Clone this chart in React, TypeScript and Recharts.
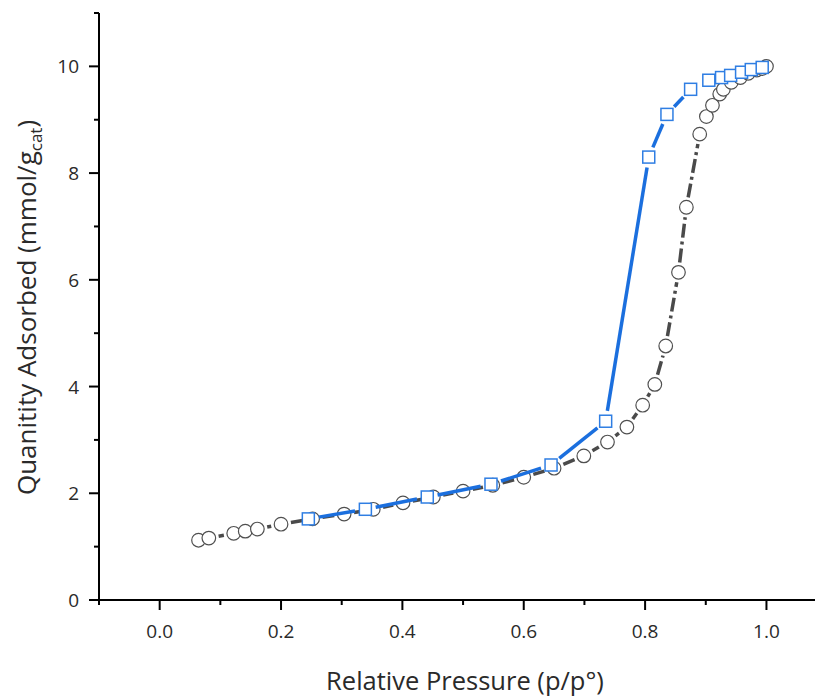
import { ScatterChart, Scatter, XAxis, YAxis } from 'recharts';

// Adsorption branch (grey circles)
const adsP = [
  0.064, 0.081, 0.122, 0.141, 0.161, 0.2, 0.252, 0.304, 0.352, 0.401, 0.451, 0.5,
  0.549, 0.6, 0.65, 0.699, 0.738, 0.77, 0.796, 0.816, 0.834, 0.855, 0.868, 0.89,
  0.901, 0.911, 0.923, 0.929, 0.942, 0.957, 0.97, 0.984, 0.993, 1.0,
];
const adsQ = [
  1.12, 1.16, 1.25, 1.29, 1.33, 1.42, 1.52, 1.61, 1.7, 1.82, 1.93, 2.04,
  2.15, 2.3, 2.47, 2.7, 2.96, 3.24, 3.65, 4.04, 4.76, 6.14, 7.36, 8.73,
  9.06, 9.27, 9.48, 9.57, 9.7, 9.79, 9.87, 9.93, 9.96, 10.0,
];

// Desorption branch (blue squares)
const desP = [
  0.245, 0.339, 0.441, 0.546, 0.645, 0.735, 0.806, 0.836, 0.875, 0.905, 0.926,
  0.941, 0.959, 0.975, 0.993,
];
const desQ = [
  1.52, 1.7, 1.93, 2.17, 2.53, 3.35, 8.3, 9.1, 9.57, 9.74, 9.79, 9.83, 9.89,
  9.94, 9.98,
];

const xTicks = [-0.1, 0, 0.1, 0.2, 0.3, 0.4, 0.5, 0.6, 0.7, 0.8, 0.9, 1.0];
const yTicks = [0, 1, 2, 3, 4, 5, 6, 7, 8, 9, 10, 11];

const adsData = adsP.map((p, i) => ({ p, q: adsQ[i] }));
const desData = desP.map((p, i) => ({ p, q: desQ[i] }));

const FONT = '"Open Sans", "Noto Sans", sans-serif';
const GREY = '#4a4a4a';
const BLUE = '#1b6fde';
const TEXT = '#2a2a2a';

// line split into segments, with a small gap left around each marker
const gappedLine = (color: string, gap: number, dash?: string) => (props: any) => {
  const pts = props.points || [];
  const segs = [];
  for (let i = 0; i < pts.length - 1; i++) {
    const a = pts[i];
    const b = pts[i + 1];
    const dx = b.x - a.x;
    const dy = b.y - a.y;
    const len = Math.sqrt(dx * dx + dy * dy);
    if (len <= gap * 2) continue;
    const ux = dx / len;
    const uy = dy / len;
    segs.push(
      <line
        key={i}
        x1={a.x + ux * gap}
        y1={a.y + uy * gap}
        x2={b.x - ux * gap}
        y2={b.y - uy * gap}
        stroke={color}
        strokeWidth={3.5}
        strokeDasharray={dash}
      />
    );
  }
  return <g>{segs}</g>;
};

const Circle = (props: any) => (
  <circle cx={props.cx} cy={props.cy} r={6.8} fill="#fff" stroke="#505050" strokeWidth={1.2} />
);

const Square = (props: any) => (
  <rect
    x={props.cx - 6}
    y={props.cy - 6}
    width={12}
    height={12}
    fill="#fff"
    stroke="#2f7ee3"
    strokeWidth={1.5}
  />
);

const XTick = (props: any) => {
  const { x, y, payload } = props;
  const v = payload.value;
  const major = Math.round(v * 10) % 2 === 0;
  return (
    <g>
      <line x1={x} y1={y} x2={x} y2={y + (major ? 10 : 5)} stroke="#000" strokeWidth={2} />
      {major && (
        <text x={x} y={y + 38} textAnchor="middle" fontFamily={FONT} fontSize={19} fill={TEXT}>
          {v.toFixed(1)}
        </text>
      )}
    </g>
  );
};

const YTick = (props: any) => {
  const { x, y, payload } = props;
  const v = payload.value;
  const major = v % 2 === 0;
  return (
    <g>
      <line x1={x} y1={y} x2={x - (major ? 10 : 5)} y2={y} stroke="#000" strokeWidth={2} />
      {major && (
        <text x={x - 20} y={y + 7} textAnchor="end" fontFamily={FONT} fontSize={19} fill={TEXT}>
          {v}
        </text>
      )}
    </g>
  );
};

const XTitle = (props: any) => {
  const vb = props.viewBox;
  return (
    <text
      x={vb.x + vb.width / 2 + 8}
      y={vb.y + 90}
      textAnchor="middle"
      fontFamily={FONT}
      fontSize={25.5}
      fill={TEXT}
    >
      Relative Pressure (p/p°)
    </text>
  );
};

const YTitle = (props: any) => {
  const vb = props.viewBox;
  const cx = vb.x + 36;
  const cy = vb.y + vb.height / 2 + 1;
  return (
    <text
      x={cx}
      y={cy}
      transform={`rotate(-90 ${cx} ${cy})`}
      textAnchor="middle"
      fontFamily={FONT}
      fontSize={26}
      fill={TEXT}
    >
      Quanitity Adsorbed (mmol/g
      <tspan fontSize={17} dy={6}>cat</tspan>
      <tspan dy={-6}>)</tspan>
    </text>
  );
};

export default function App() {
  return (
    <div style={{ position: 'absolute', left: 0, top: 0, width: 815, height: 698, background: '#fff' }}>
      <ScatterChart width={815} height={698} margin={{ top: 13, right: 0, bottom: 0, left: 0 }}>
        <XAxis
          type="number"
          dataKey="p"
          domain={[-0.1, 1.08]}
          ticks={xTicks}
          interval={0}
          height={98}
          tickSize={0}
          tickMargin={0}
          tickLine={false}
          tick={<XTick />}
          axisLine={{ stroke: '#000', strokeWidth: 2 }}
          allowDataOverflow
          label={<XTitle />}
        />
        <YAxis
          type="number"
          dataKey="q"
          domain={[0, 11]}
          ticks={yTicks}
          interval={0}
          width={99}
          tickSize={0}
          tickMargin={0}
          tickLine={false}
          tick={<YTick />}
          axisLine={{ stroke: '#000', strokeWidth: 2 }}
          allowDataOverflow
          label={<YTitle />}
        />
        <Scatter
          data={adsData}
          line={gappedLine(GREY, 10, '14 4 3 4')}
          shape={<Circle />}
          isAnimationActive={false}
        />
        <Scatter
          data={desData}
          line={gappedLine(BLUE, 10.5)}
          shape={<Square />}
          isAnimationActive={false}
        />
      </ScatterChart>
    </div>
  );
}
